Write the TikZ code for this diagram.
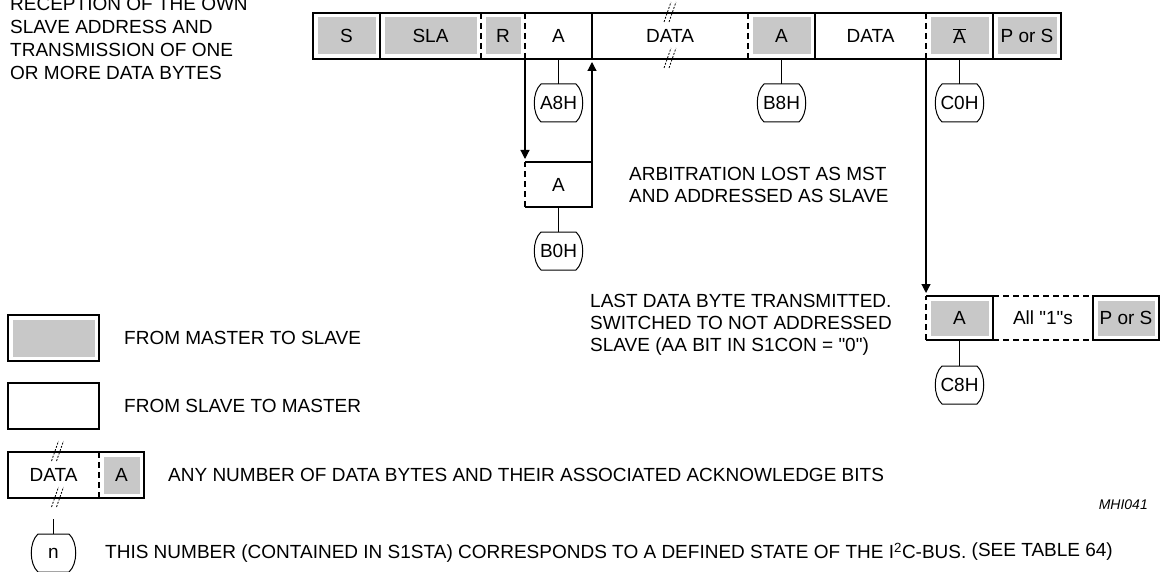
\documentclass[tikz,border=0pt]{standalone}
\usepackage{fontspec}
\setmainfont{Liberation Sans}
\usetikzlibrary{arrows.meta,positioning}
\definecolor{mgray}{HTML}{C8C8C8}

\begin{document}
\begin{tikzpicture}[
  x=1pt, y=-1pt,
  field/.style={
    minimum width=#1,
    minimum height=46pt,
    inner sep=0pt,
    outer sep=0pt,
    font=\fontsize{19pt}{22pt}\selectfont
  },
  master/.style={
    path picture={\fill[mgray]
      ([xshift=4.5pt,yshift=-4.5pt]path picture bounding box.north west) rectangle
      ([xshift=-4.5pt,yshift=4.5pt]path picture bounding box.south east);}
  },
  frame/.style={draw=black, line width=2pt},
  split/.style={frame, dash pattern=on 6pt off 4pt},
  flow/.style={-{Triangle[length=9pt,width=9pt]}, line width=1.2pt, shorten >=3pt},
  stem/.style={line width=1pt},
  status/.style={
    minimum width=49pt,
    minimum height=38pt,
    inner sep=0pt,
    outer sep=0pt,
    font=\fontsize{19pt}{22pt}\selectfont
  },
  capsule/.style={line width=1pt},
  note/.style={inner sep=0pt, align=left, font=\fontsize{19pt}{22pt}\selectfont},
  brkline/.style={line width=0.8pt, dash pattern=on 2pt off 1.5pt},
  brk/.pic={
    \draw[brkline] (-6,9) -- (1,-11);
    \draw[brkline] (-1,9) -- (6,-11);
  }
]
\useasboundingbox (0,0) rectangle (1161,572);

% intro text, cut at the top edge
\node[note, anchor=north west, font=\fontsize{19pt}{23pt}\selectfont] (intro) at (10,-3)
  {RECEPTION OF THE OWN\\SLAVE ADDRESS AND\\TRANSMISSION OF ONE\\OR MORE DATA BYTES};

% main frame sequence
\node[field=67pt, master] (s) at (346.5,36) {S};
\node[field=101pt, master, right=0pt of s] (sla) {SLA};
\node[field=44pt, master, right=0pt of sla] (r) {R};
\node[field=67pt, right=0pt of r] (ack1) {A};
\node[field=156pt, right=0pt of ack1] (data1) {DATA};
\node[field=67pt, master, right=0pt of data1] (ack2) {A};
\node[field=111pt, right=0pt of ack2] (data2) {DATA};
\node[field=67pt, master, right=0pt of data2] (nack) {$\overline{\mbox{A}}$};
\node[field=68pt, master, right=0pt of nack] (pors1) {P or S};

\draw[frame] (s.north west) rectangle (pors1.south east);
\foreach \n in {sla,data1,data2,pors1}
  \draw[frame] (\n.north west) -- (\n.south west);
\foreach \n in {r,ack1,ack2,nack}
  \draw[split] (\n.north west) -- (\n.south west);
\pic at (data1.north) {brk};
\pic at (data1.south) {brk};

\node[status, below=25pt of ack1] (a8h) {A8H};
\node[status, below=25pt of ack2] (b8h) {B8H};
\node[status, below=25pt of nack] (c0h) {C0H};
\draw[stem] (ack1) -- (a8h);
\draw[stem] (ack2) -- (b8h);
\draw[stem] (nack) -- (c0h);

% arbitration lost branch
\node[field=67pt, minimum height=45pt, below=103pt of ack1] (ack3) {A};
\draw[frame] (ack3.north west) -- (ack3.north east) -- (ack3.south east) -- (ack3.south west);
\draw[split] (ack3.south west) -- (ack3.north west);
\draw[flow] (ack1.south west) -- (ack3.north west);
\draw[flow] (ack3.north east) -- (ack1.south east);
\node[status, below=25pt of ack3] (b0h) {B0H};
\draw[stem] (ack3) -- (b0h);
\node[note, right=37pt of ack3] (lost)
  {ARBITRATION LOST AS MST\\AND ADDRESSED AS SLAVE};

% last data byte branch
\node[field=67pt, minimum height=44pt, master, below=237pt of nack] (ack4) {A};
\node[field=100pt, minimum height=44pt, right=0pt of ack4] (ones)
  {All \textquotedbl 1\textquotedbl s};
\node[field=66pt, minimum height=44pt, master, right=0pt of ones] (pors2) {P or S};
\draw[frame] (ack4.north west) -- (ack4.north east) -- (ack4.south east) -- (ack4.south west);
\draw[split] (ack4.south west) -- (ack4.north west);
\draw[split] (ones.north west) -- (ones.north east);
\draw[split] (ones.south west) -- (ones.south east);
\draw[frame] (pors2.north west) rectangle (pors2.south east);
\draw[flow] (nack.south west) -- (ack4.north west);
\node[status, below=26pt of ack4] (c8h) {C8H};
\draw[stem] (ack4) -- (c8h);
\node[note, anchor=west] (last) at (590,325)
  {LAST DATA BYTE TRANSMITTED.\\SWITCHED TO NOT ADDRESSED\\SLAVE (AA BIT IN S1CON = \textquotedbl 0\textquotedbl )};

% legend
\node[field=91pt, master] (legm) at (53.5,338) {};
\draw[frame] (legm.north west) rectangle (legm.south east);
\node[note, right=25pt of legm] (legmtxt) {FROM MASTER TO SLAVE};

\node[field=91pt, below=22pt of legm] (legs) {};
\draw[frame] (legs.north west) rectangle (legs.south east);
\node[note, right=25pt of legs] (legstxt) {FROM SLAVE TO MASTER};

\node[field=91pt, below=23pt of legs] (legd) {DATA};
\node[field=45pt, master, right=0pt of legd] (lega) {A};
\draw[frame] (legd.north west) rectangle (lega.south east);
\draw[split] (lega.north west) -- (lega.south west);
\pic at ([xshift=4pt]legd.north) {brk};
\pic at ([xshift=4pt]legd.south) {brk};
\node[note, right=24pt of lega] (legdtxt)
  {ANY NUMBER OF DATA BYTES AND THEIR ASSOCIATED ACKNOWLEDGE BITS};

\node[status, minimum width=45pt, below=36pt of legd] (ncap) {n};
\coordinate[above=15pt of ncap] (nstub);
\draw[stem] (nstub) -- (ncap);
\node[note, right=29pt of ncap] (ncaptxt)
  {THIS NUMBER (CONTAINED IN S1STA) CORRESPONDS TO A DEFINED STATE OF THE I\textsuperscript{2}C-BUS. \raisebox{2pt}{(SEE TABLE 64)}};

\node[inner sep=0pt, anchor=east, font=\itshape\fontsize{14pt}{16pt}\selectfont] (figid)
  at (1148,505) {MHI041};

% status capsules
\foreach \n in {a8h,b8h,c0h,b0h,c8h,ncap}
  \draw[capsule] ([xshift=7pt]\n.north west) -- ([xshift=-7pt]\n.north east)
    .. controls ([xshift=2pt,yshift=-8pt]\n.north east) and ([xshift=2pt,yshift=8pt]\n.south east)
    .. ([xshift=-7pt]\n.south east) -- ([xshift=7pt]\n.south west)
    .. controls ([xshift=-2pt,yshift=8pt]\n.south west) and ([xshift=-2pt,yshift=-8pt]\n.north west)
    .. cycle;
\end{tikzpicture}
\end{document}
